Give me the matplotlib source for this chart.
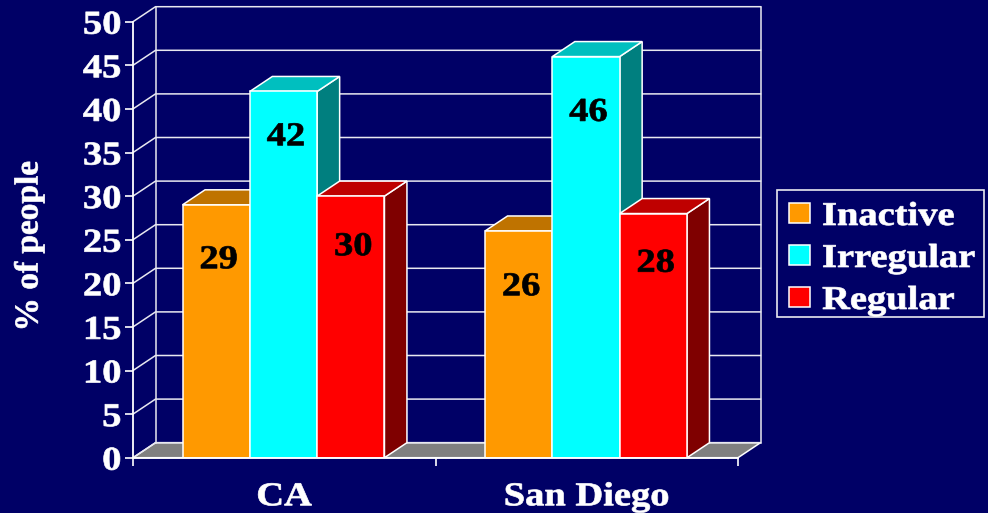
import numpy as np
import matplotlib
matplotlib.use('Agg')
import matplotlib.pyplot as plt
from matplotlib.patches import Patch, Rectangle
from matplotlib.patheffects import AbstractPathEffect
from matplotlib.transforms import Affine2D

categories = ['CA', 'San Diego']
series_names = ['Inactive', 'Irregular', 'Regular']
inactive = [29, 26]
irregular = [42, 46]
regular = [30, 28]
y_ticks = [0, 5, 10, 15, 20, 25, 30, 35, 40, 45, 50]

# front, top, side colours
front_colors = ['#FF9900', '#00FFFF', '#FF0000']
top_colors = ['#BF7300', '#00BFBF', '#BF0000']
side_colors = ['#7F4C00', '#007F7F', '#7F0000']

# where the labels sit, below the top of the bar (in % units)
label_drop = [[6.3, 5.2, 5.8], [6.4, 6.4, 5.7]]

NAVY = '#000066'
plt.rcParams['font.family'] = ['Liberation Serif']
plt.rcParams['font.weight'] = 'bold'
FS = 24


# The original text is wider and heavier than Times, so stretch the glyphs
# sideways and give them a thin outline
class Wide(AbstractPathEffect):
    def __init__(self, anchor=0.5, s=1.155):
        super().__init__()
        self.anchor = anchor
        self.s = s

    def draw_path(self, renderer, gc, tpath, affine, rgbFace=None):
        box = tpath.get_extents()
        a = box.x0 + self.anchor * box.width
        t = Affine2D().translate(-a, 0).scale(self.s, 1).translate(a, 0)
        gc0 = renderer.new_gc()
        gc0.copy_properties(gc)
        gc0.set_foreground(rgbFace)
        gc0.set_linewidth(0.5)
        renderer.draw_path(gc0, tpath, t + affine, rgbFace)
        gc0.restore()


fig = plt.figure(figsize=(9.88, 5.13), dpi=100, facecolor=NAVY)
ax = fig.add_axes([133 / 988, 1 - 457.7 / 513, 605 / 988, 436 / 513], facecolor=NAVY)
ax.set_xlim(0, 2)
ax.set_ylim(0, 50)

# depth of the fake 3d box, in data units
dx = 22.5 / 302.5
dy = 15 / 8.72
lw = 1.1

# walls and floor
ax.fill([0, 2, 2 + dx, dx], [0, 0, dy, dy], color='#808080', ec='white', lw=lw, clip_on=False, zorder=1)
for v in y_ticks:
    ax.plot([0, dx, 2 + dx], [v, v + dy, v + dy], color='#E8E8F0', lw=lw, clip_on=False, zorder=2)
ax.plot([dx, dx], [dy, 50 + dy], color='#E8E8F0', lw=lw, clip_on=False, zorder=2)
ax.plot([2 + dx, 2 + dx], [dy, 50 + dy], color='#E8E8F0', lw=lw, clip_on=False, zorder=2)

# bars, left to right so each one covers the one before
values = np.array([inactive, irregular, regular])
width = 0.2225
z = 3
for g in range(len(categories)):
    for s in range(len(series_names)):
        v = values[s][g]
        x0 = g + 0.4975 + (s - 1.5) * width
        x1 = x0 + width
        ax.fill([x1, x1 + dx, x1 + dx, x1], [0, dy, v + dy, v], color=side_colors[s],
                ec='white', lw=lw, clip_on=False, zorder=z)
        ax.fill([x0, x1, x1 + dx, x0 + dx], [v, v, v + dy, v + dy], color=top_colors[s],
                ec='white', lw=lw, clip_on=False, zorder=z)
        ax.bar(x0, v, width=width, align='edge', color=front_colors[s], ec='white', lw=lw, zorder=z + 0.5)
        ax.text(x0 + width / 2 + 0.008, v - label_drop[g][s], str(v), color='black', fontsize=FS,
                ha='center', va='center', zorder=50, path_effects=[Wide(0.5)])
        z += 1

# axes
for name in ['top', 'right']:
    ax.spines[name].set_visible(False)
for name in ['left', 'bottom']:
    ax.spines[name].set_color('white')
    ax.spines[name].set_linewidth(1.3)
    ax.spines[name].set_zorder(40)

ax.set_yticks(y_ticks)
ax.tick_params(axis='y', colors='white', labelsize=FS, length=6, width=1.2, pad=2.5)
ax.set_xticks([0, 1, 2])
ax.set_xticklabels([])
ax.set_xticks([0.5, 1.5], labels=categories, minor=True)
ax.tick_params(axis='x', which='major', colors='white', length=5.8, width=1.2)
ax.tick_params(axis='x', which='minor', colors='white', length=0, labelsize=FS, pad=17)
for lab in ax.get_yticklabels():
    lab.set_path_effects([Wide(1.0)])
for lab in ax.get_xticklabels(minor=True):
    lab.set_path_effects([Wide(0.5)])

fig.text(29 / 988, 1 - 246 / 513, '% of people', color='white', fontsize=FS, rotation=90, ha='center', va='center',
         path_effects=[Wide(0.5, 1.0)])

# legend box is drawn apart so the entries can sit where they should
fig.add_artist(Rectangle((777 / 988, 1 - 317 / 513), 207 / 988, 127 / 513, transform=fig.transFigure,
                         facecolor=NAVY, edgecolor='#E8E8F0', lw=1.2))
handles = [Patch(facecolor=c, edgecolor='white', lw=1.1) for c in front_colors]
leg = fig.legend(handles, series_names, loc='upper left', bbox_to_anchor=(788.5 / 988, 1 - 201 / 513),
                 bbox_transform=fig.transFigure, fontsize=FS, labelcolor='white', frameon=False,
                 borderaxespad=0, borderpad=0, handlelength=0.65, handleheight=0.55,
                 handletextpad=0.36, labelspacing=0.33)
for t in leg.get_texts():
    t.set_path_effects([Wide(0.0)])

fig.savefig('out.png', dpi=100, facecolor=NAVY)
